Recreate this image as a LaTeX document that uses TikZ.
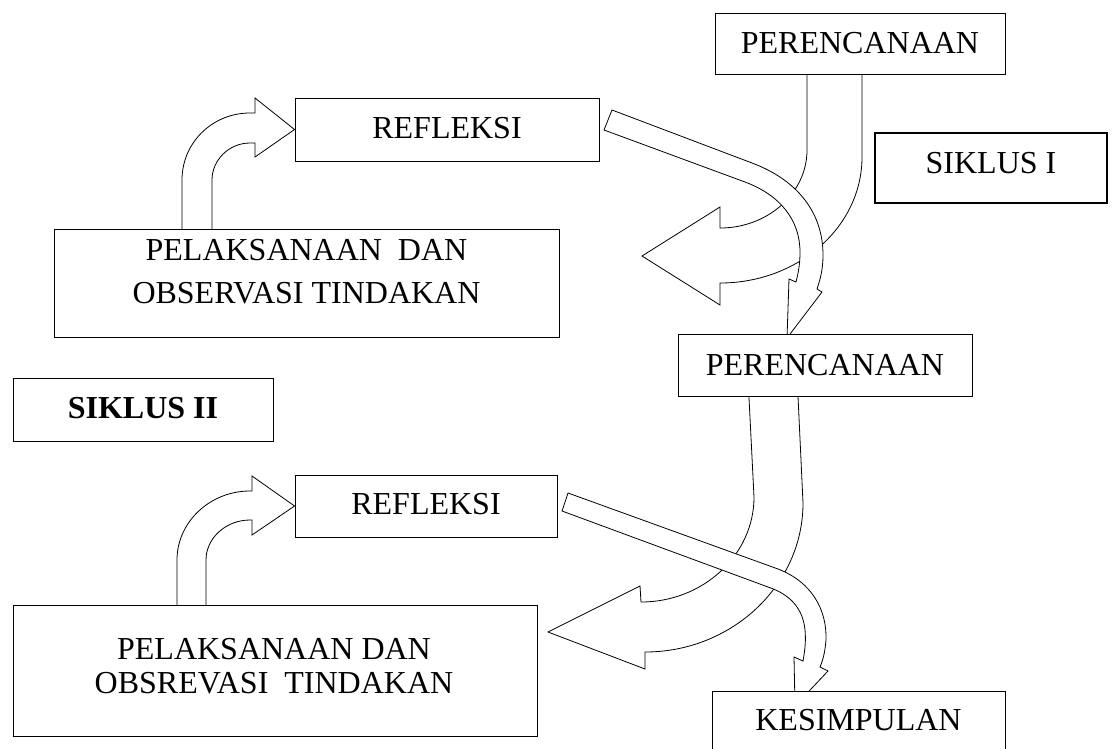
\documentclass[tikz,border=0pt]{standalone}
\usepackage{fontspec}
\setmainfont{Liberation Serif}
\pgfdeclarelayer{arrowlayer}
\pgfsetlayers{arrowlayer,main}
\begin{document}
\begin{tikzpicture}[x=1pt,y=-1pt,
  box/.style={draw, line width=0.9pt, fill=white, inner sep=0pt,
    font=\fontsize{32}{38}\selectfont},
  txt/.style={inner sep=0pt, align=center},
  blockarrow/.style={draw, line width=0.8pt, fill=white, line join=miter}]
\useasboundingbox (0,0) rectangle (1115,748);

% boxes
\node[box, minimum width=290, minimum height=61] (per1) at (860,43.5) {PERENCANAAN};
\node[box, line width=2.3pt, minimum width=232, minimum height=70, text depth=10pt] (sik1) at (991,168) {SIKLUS I};
\node[box, minimum width=304, minimum height=63, text depth=3pt] (ref1) at (447,129.5) {REFLEKSI};
\node[box, minimum width=505, minimum height=108] (pel1) at (306.5,283) {};
\node[txt, font=\fontsize{32}{43}\selectfont] (pel1t) at (306.5,272) {PELAKSANAAN\ \ DAN\\OBSERVASI TINDAKAN};
\node[box, minimum width=260, minimum height=63, text depth=3pt, font=\fontsize{32}{38}\selectfont\bfseries] (sik2) at (143,409.5) {SIKLUS II};
\node[box, minimum width=294, minimum height=62] (per2) at (825,365) {PERENCANAAN};
\node[box, minimum width=262, minimum height=62, text depth=4pt] (ref2) at (426,506) {REFLEKSI};
\node[box, minimum width=524, minimum height=131] (pel2) at (275,670.5) {};
\node[txt, font=\fontsize{32}{34}\selectfont] (pel2t) at (274,666.5) {PELAKSANAAN DAN\\OBSREVASI\ \ TINDAKAN};
\node[box, minimum width=293, minimum height=58] (kes) at (858.5,720) {KESIMPULAN};

\begin{pgfonlayer}{arrowlayer}
% Siklus I: perencanaan -> pelaksanaan (left block arrow)
\path[blockarrow] (807,70) -- (807,150) .. controls (807,193) and (768,228) .. (720,228)
  -- (720,207) -- (642,256) -- (720,305) -- (720,283)
  .. controls (798,283) and (862,227) .. (862,157) -- (862,70) -- cycle;
% Siklus I: refleksi -> perencanaan (II)
\path[blockarrow] (612,110) -- (752,163) .. controls (800,181) and (823,215) .. (823,255)
  .. controls (823,270) and (820,280) .. (817,289) -- (822,292) -- (787,338) -- (789,279)
  -- (796,282) .. controls (799,270) and (800,262) .. (800,252)
  .. controls (800,220) and (780,195) .. (745,182) -- (604,130) -- cycle;
% Siklus II: perencanaan -> pelaksanaan
\path[blockarrow] (748.6,390) -- (754,497) .. controls (754,555) and (703,602) .. (641,602)
  -- (640,586) -- (548,632) -- (645,669) -- (645,652)
  .. controls (732,652) and (803,585) .. (803,503) -- (797.7,390) -- cycle;
% Siklus II: refleksi -> kesimpulan
\path[blockarrow] (568,493) -- (778,569) .. controls (812,582) and (827,610) .. (826,640)
  .. controls (825,652) and (823,660) .. (820,667) -- (828,671) -- (795,706) -- (794,657)
  -- (803,661) .. controls (805,650) and (806,640) .. (805,630)
  .. controls (803,610) and (792,595) .. (768,587) -- (562,511) -- cycle;
% Siklus I: pelaksanaan -> refleksi
\path[blockarrow] (182,235) -- (182,180) .. controls (182,143) and (212,113) .. (250,113)
  -- (255,113) -- (255,98) -- (ref1.west) -- (255,157) -- (255,143) -- (250,143)
  .. controls (229,143) and (212,160) .. (212,180) -- (212,235) -- cycle;
% Siklus II: pelaksanaan -> refleksi
\path[blockarrow] (177,610) -- (177,560) .. controls (177,522) and (210,491) .. (250,491)
  -- (252,491) -- (252,476) -- (ref2.west) -- (252,535) -- (252,520) -- (250,520)
  .. controls (226,520) and (206,538) .. (206,560) -- (206,610) -- cycle;
\end{pgfonlayer}
\end{tikzpicture}
\end{document}
